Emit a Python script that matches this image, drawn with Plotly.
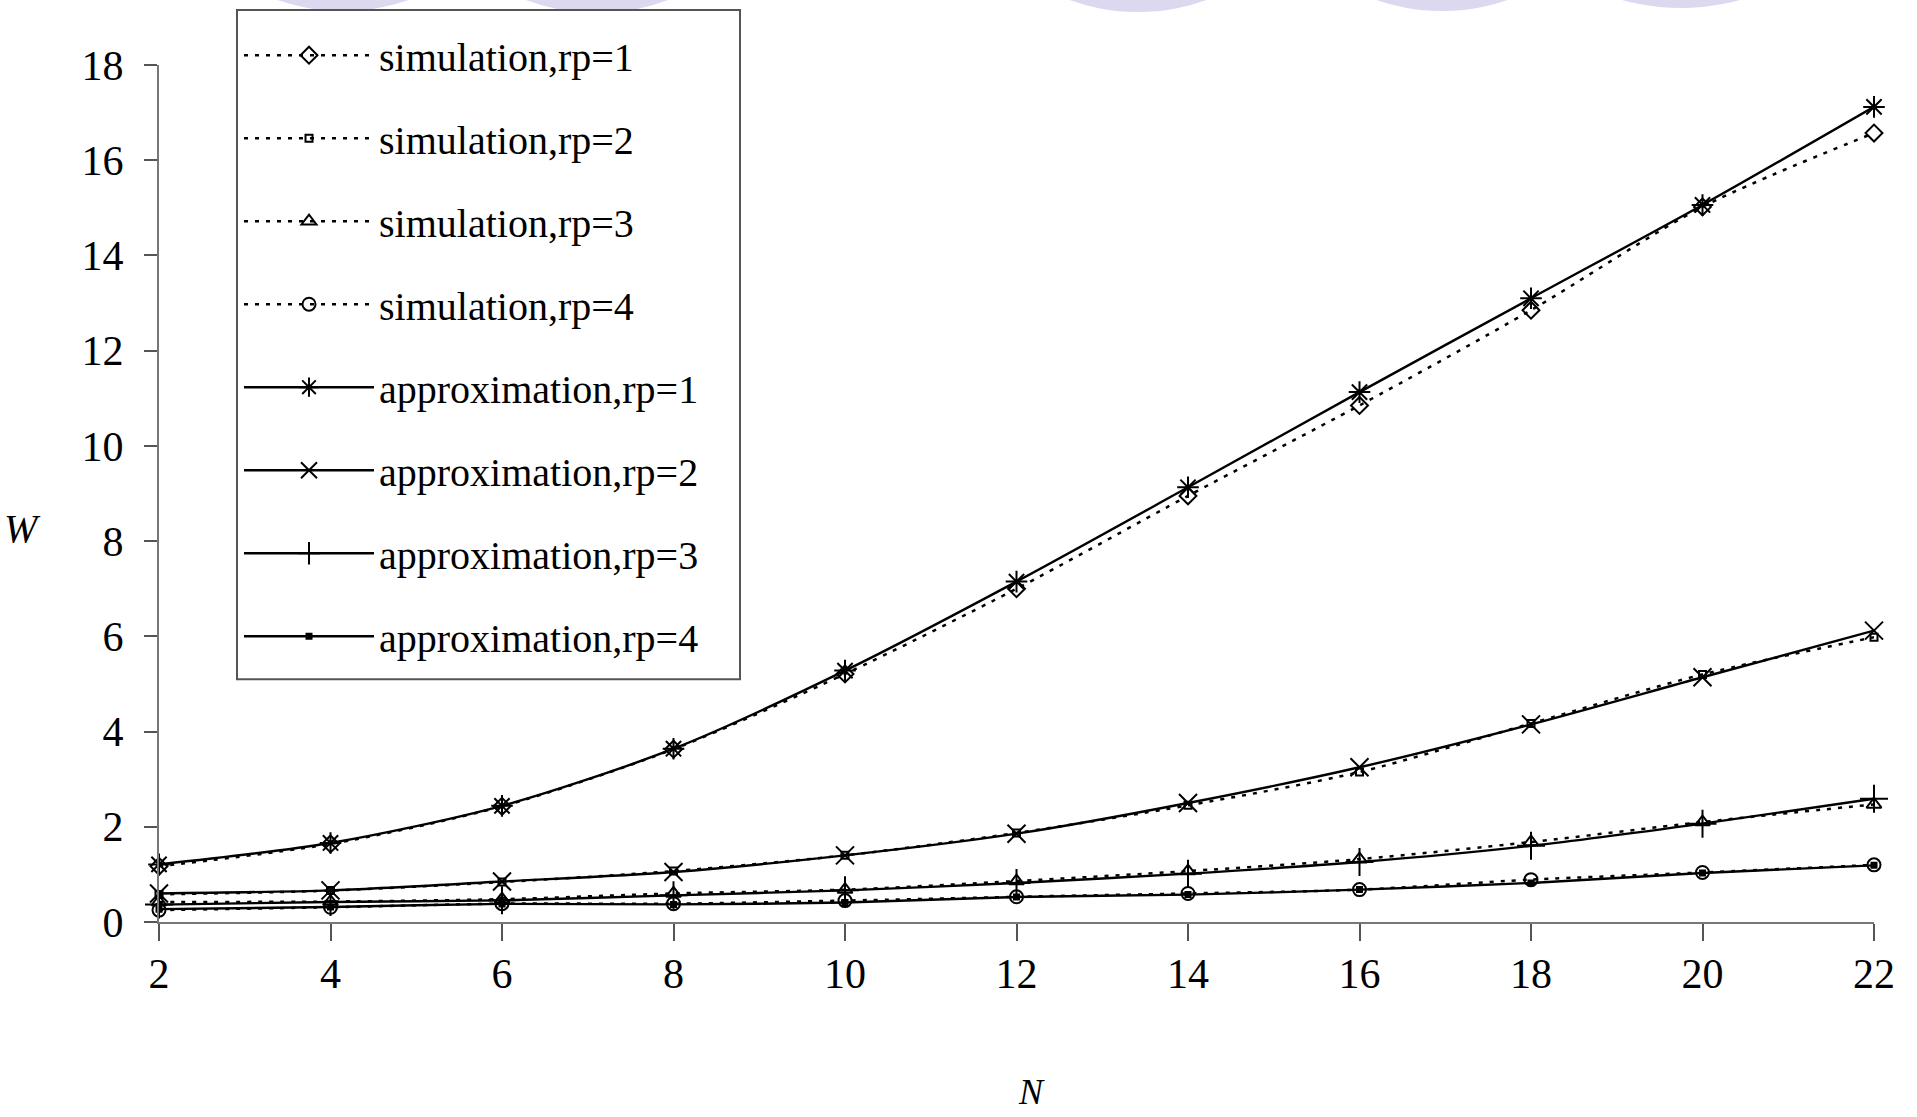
import plotly.graph_objects as go

# ---- data ----
N = [2, 4, 6, 8, 10, 12, 14, 16, 18, 20, 22]

sim_rp1 = [1.17, 1.64, 2.43, 3.63, 5.21, 7.00, 8.95, 10.85, 12.85, 15.02, 16.57]
sim_rp2 = [0.58, 0.66, 0.84, 1.07, 1.40, 1.87, 2.45, 3.15, 4.17, 5.20, 5.98]
sim_rp3 = [0.42, 0.43, 0.48, 0.60, 0.68, 0.86, 1.07, 1.32, 1.68, 2.10, 2.47]
sim_rp4 = [0.25, 0.31, 0.385, 0.385, 0.45, 0.53, 0.60, 0.68, 0.89, 1.04, 1.20]

app_rp1 = [1.21, 1.66, 2.44, 3.64, 5.28, 7.15, 9.13, 11.13, 13.10, 15.06, 17.12]
app_rp2 = [0.60, 0.665, 0.85, 1.05, 1.40, 1.855, 2.50, 3.25, 4.15, 5.14, 6.12]
app_rp3 = [0.365, 0.42, 0.455, 0.56, 0.665, 0.82, 1.015, 1.26, 1.60, 2.065, 2.59]
app_rp4 = [0.27, 0.315, 0.38, 0.37, 0.41, 0.525, 0.575, 0.68, 0.82, 1.03, 1.19]

names = ["simulation,rp=1", "simulation,rp=2", "simulation,rp=3", "simulation,rp=4",
         "approximation,rp=1", "approximation,rp=2", "approximation,rp=3", "approximation,rp=4"]
series = [sim_rp1, sim_rp2, sim_rp3, sim_rp4, app_rp1, app_rp2, app_rp3, app_rp4]

x_ticks = [2, 4, 6, 8, 10, 12, 14, 16, 18, 20, 22]
y_ticks = [0, 2, 4, 6, 8, 10, 12, 14, 16, 18]

# ---- styles ----
symbols = ["diamond-open", "square-open", "triangle-up-open", "circle-open",
           "asterisk-open", "x-thin-open", "cross-thin-open", "square"]
msizes = [13, 7, 13, 13, 18, 18, 20, 5]

FONT = "Liberation Serif, Times New Roman, serif"

fig = go.Figure()
for i, (nm, ys) in enumerate(zip(names, series)):
    is_sim = i < 4
    fig.add_trace(go.Scatter(
        x=N, y=ys, name=nm, legendgroup=nm,
        mode="lines+markers",
        line=dict(color="black", width=2.5 if is_sim else 2.4,
                  dash="4px,7px" if is_sim else "solid",
                  shape="spline", smoothing=0.8),
        marker=dict(symbol=symbols[i], size=msizes[i], color="black",
                    line=dict(color="black", width=2)),
        cliponaxis=False,
    ))

# plot-area geometry in pixels (for converting decorative elements)
L, R, T, B = 159, 43, 64, 195
W_, H_ = 1917, 1117
PW, PH = W_ - L - R, H_ - T - B


def px(xp):
    return (xp - L) / PW


def py(yp):
    return (H_ - B - yp) / PH


# light watermark arcs at the top edge of the picture (decoration)
shapes = []
for cx, r, depth in [(343, 200, 10), (597, 200, 12), (1138, 200, 11), (1442, 200, 10), (1681, 220, 7)]:
    cy = depth - r
    shapes.append(dict(type="circle", xref="paper", yref="paper",
                       x0=px(cx - r), x1=px(cx + r), y0=py(cy + r), y1=py(cy - r),
                       fillcolor="#dcd8ef", line=dict(width=0), layer="below"))

# legend frame
shapes.append(dict(type="rect", xref="paper", yref="paper",
                   x0=px(237), x1=px(740), y0=py(679), y1=py(9),
                   fillcolor="white", line=dict(color="#555555", width=2), layer="above"))

fig.update_layout(
    width=W_, height=H_,
    margin=dict(l=L, r=R, t=T, b=B, pad=0),
    paper_bgcolor="white", plot_bgcolor="white",
    font=dict(family=FONT, color="black", size=40),
    showlegend=True,
    legend=dict(
        x=px(239), y=py(11), xanchor="left", yanchor="top",
        bgcolor="rgba(0,0,0,0)", borderwidth=0,
        font=dict(family=FONT, size=40, color="black"),
        itemwidth=130, tracegroupgap=28, maxheight=1000,
        title=dict(text=" ", font=dict(size=9)),
    ),
    shapes=shapes,
    annotations=[
        dict(text="<i>W</i>", xref="paper", yref="paper", x=px(22), y=py(528),
             xanchor="center", yanchor="middle",
             showarrow=False, font=dict(family=FONT, size=40, color="black")),
        dict(text="<i>N</i>", xref="paper", yref="paper", x=px(1031), y=py(1092),
             xanchor="center", yanchor="middle",
             showarrow=False, font=dict(family=FONT, size=36, color="black")),
    ],
)

fig.update_xaxes(
    range=[2, 22], tickvals=x_ticks, ticktext=[str(v) for v in x_ticks],
    showgrid=False, zeroline=False,
    showline=True, linecolor="#777777", linewidth=2,
    ticks="outside", ticklen=17, tickwidth=1.5, tickcolor="#555555",
    tickfont=dict(family=FONT, size=42, color="black"),
    ticklabelstandoff=-3,
)
fig.update_yaxes(
    range=[0, 18], tickvals=y_ticks, ticktext=[str(v) for v in y_ticks],
    showgrid=False, zeroline=False,
    showline=True, linecolor="#777777", linewidth=2,
    ticks="outside", ticklen=13, tickwidth=1.5, tickcolor="#555555",
    tickfont=dict(family=FONT, size=42, color="black"),
    ticklabelstandoff=12,
)

fig.write_html("out.html")
